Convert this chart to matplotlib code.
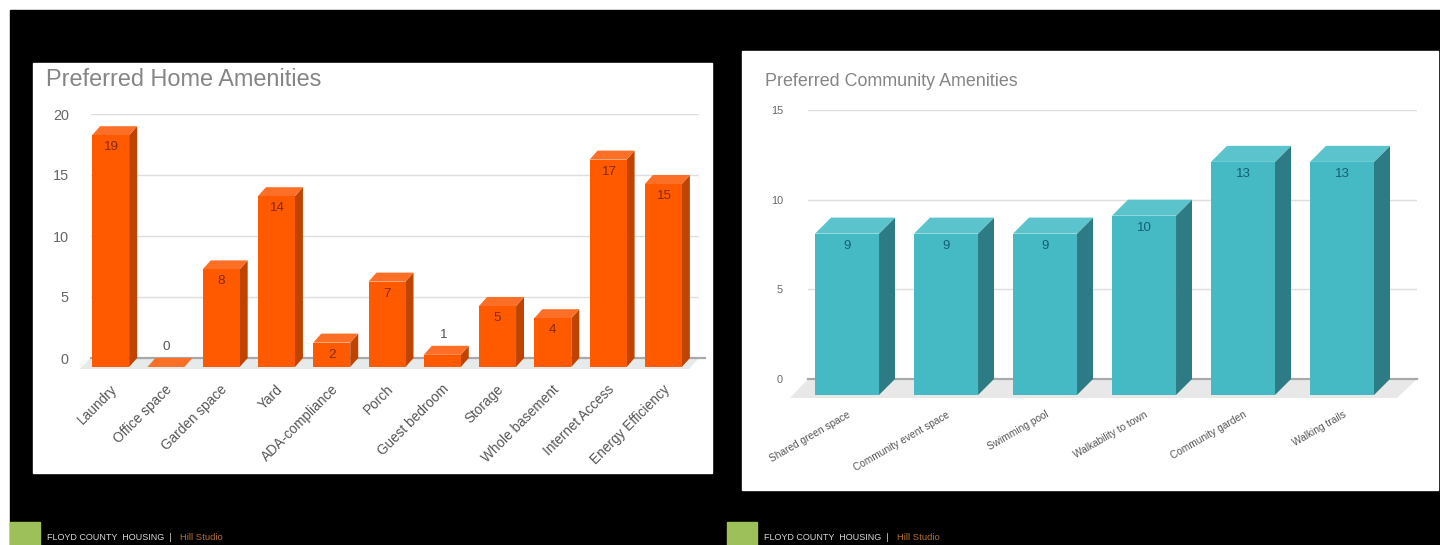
import matplotlib
matplotlib.use("Agg")
from matplotlib import pyplot as plt
from matplotlib.patches import Rectangle

plt.rcParams['font.family'] = ['Liberation Sans', 'DejaVu Sans']

W, H = 1440, 545

home_labels = ["Laundry", "Office space", "Garden space", "Yard", "ADA-compliance", "Porch",
               "Guest bedroom", "Storage", "Whole basement", "Internet Access", "Energy Efficiency"]
home_values = [19, 0, 8, 14, 2, 7, 1, 5, 4, 17, 15]
home_ticks = [0, 5, 10, 15, 20]

comm_labels = ["Shared green space", "Community event space", "Swimming pool",
               "Walkability to town", "Community garden", "Walking trails"]
comm_values = [9, 9, 9, 10, 13, 13]
comm_ticks = [0, 5, 10, 15]

fig = plt.figure(figsize=(W / 100, H / 100), dpi=100, facecolor="white")

# background, cards and footer in pixel coordinates
bg = fig.add_axes([0, 0, 1, 1])
bg.set_xlim(0, W)
bg.set_ylim(H, 0)
bg.axis("off")
bg.add_patch(Rectangle((10, 10), W - 10, H - 10, color="black"))
bg.add_patch(Rectangle((33, 63), 679, 410, color="white"))
bg.add_patch(Rectangle((742, 51), 696, 439, color="white"))

for x0 in [10, 727]:
    bg.add_patch(Rectangle((x0, 522), 30, 23, color="#9DC05A"))
    bg.text(x0 + 37, 538, "FLOYD COUNTY  HOUSING  |", color="#D8D8D8", fontsize=6.5, va="center")
    bg.text(x0 + 170, 538, "Hill Studio", color="#B5702A", fontsize=6.8, va="center")


def panel(box, xlim, ylim, labels, values, ticks, cols, depth, bar_w, title, title_xy,
          title_size, tick_size, lab_size, lab_rot, lab_pad, lab_shift, y_pad, val_size,
          val_col, floor_col, floor_px, base_extra):
    # box = left, top, right, bottom of the back plane in pixels
    l, t, r, b = box
    ax = fig.add_axes([l / W, 1 - b / H, (r - l) / W, (b - t) / H])
    ax.patch.set_alpha(0)
    ax.set_xlim(*xlim)
    ax.set_ylim(*ylim)
    for s in ax.spines.values():
        s.set_visible(False)

    px_x = (r - l) / (xlim[1] - xlim[0])
    px_y = (b - t) / (ylim[1] - ylim[0])
    dx = depth[0] / px_x
    dy = depth[1] / px_y
    x = list(range(len(values)))

    ax.set_axisbelow(True)
    ax.yaxis.grid(True, color="#DEDEDE", lw=1)
    ax.set_yticks(ticks)
    ax.tick_params(axis="y", length=0, labelsize=tick_size, labelcolor="#666666", pad=y_pad)

    # floor
    drop = (depth[1] + floor_px[2]) / px_y
    ax.fill([xlim[0], xlim[1], xlim[1] - floor_px[1] / px_x, xlim[0] - floor_px[0] / px_x],
            [0, 0, -drop, -drop], color=floor_col, clip_on=False, zorder=1, lw=0)
    ax.plot([xlim[0], xlim[1] + base_extra / px_x], [0, 0], color="#A9A9A9", lw=1.6, zorder=1.5,
            clip_on=False)

    hw = bar_w / px_x / 2
    front, side, top = cols
    for i, v in zip(x, values):
        cx = i - dx
        y0 = v - dy
        ax.fill([cx + hw, cx + hw + dx, cx + hw + dx, cx + hw], [-dy, 0, v, y0],
                color=side, lw=0, clip_on=False, zorder=2)
        ax.fill([cx - hw, cx + hw, cx + hw + dx, cx - hw + dx], [y0, y0, v, v],
                color=top, lw=0, clip_on=False, zorder=2)
    ax.bar([i - dx for i in x], values, bar_w / px_x, bottom=-dy, color=front, lw=0,
           clip_on=False, zorder=3)

    for i, v in zip(x, values):
        if v < 2:
            ax.annotate(str(v), (i - dx, v), xytext=(0, 5), textcoords="offset pixels",
                        ha="center", va="bottom", fontsize=val_size, color="#555555", zorder=4)
        else:
            ax.annotate(str(v), (i - dx, v - dy), xytext=(0, -12), textcoords="offset pixels",
                        ha="center", va="center", fontsize=val_size, color=val_col, zorder=4)

    ax.set_xticks([i - lab_shift / px_x for i in x])
    ax.set_xticklabels(labels, rotation=lab_rot, ha="right", va="center",
                       rotation_mode="anchor", fontsize=lab_size, color="#555555")
    ax.tick_params(axis="x", length=0, pad=lab_pad)

    bg.text(title_xy[0], title_xy[1], title, color="#858585", fontsize=title_size, va="center")


panel((91, 114, 699, 358), (-0.5, 10.5), (0, 20), home_labels, home_values, home_ticks,
      ("#FF5A00", "#BF4400", "#FB7026"), (8, 9), 37,
      "Preferred Home Amenities", (46, 80), 16.9, 10.4, 9.8, 45, 21, 4, 16, 9.7,
      "#8A2A00", "#E6EAEA", (12, 10, 2), 6)

panel((808, 110, 1417, 379), (-0.556, 5.596), (0, 15), comm_labels, comm_values, comm_ticks,
      ("#45BAC4", "#2D7C85", "#5BC3CC"), (16, 16), 64,
      "Preferred Community Amenities", (765, 81), 12.9, 7.8, 7.3, 30, 25, 13, 18, 9.5,
      "#125F7A", "#E8E8E8", (18, 20, 3), 0)

plt.savefig("out.png", dpi=100, facecolor=fig.get_facecolor())
